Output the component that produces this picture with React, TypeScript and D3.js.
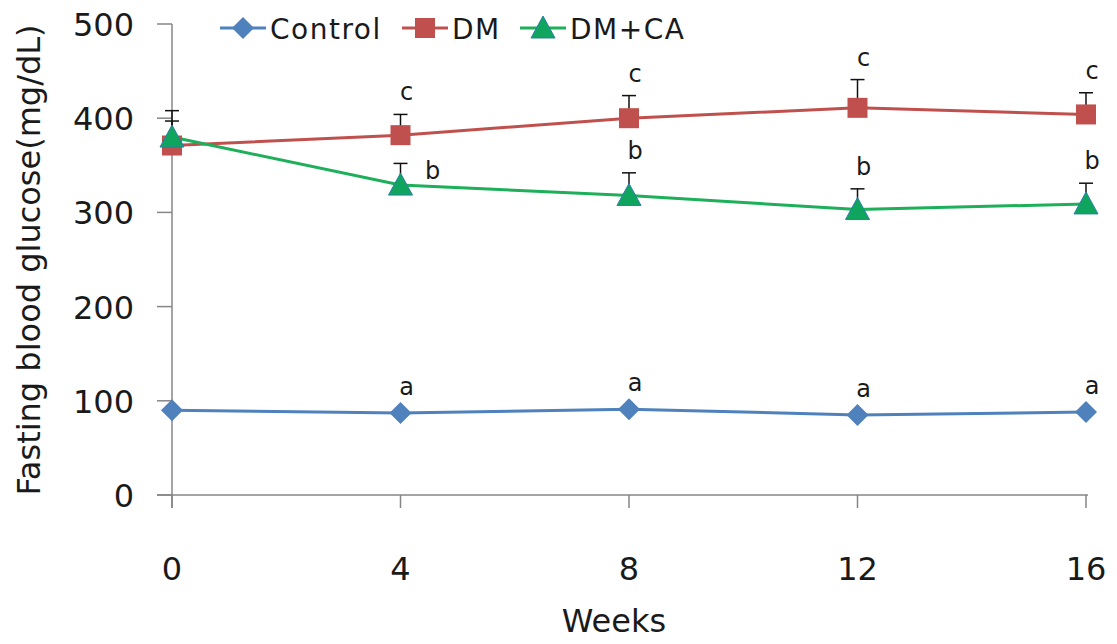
import React from "react";
import * as d3 from "d3";

const weeks = [0, 4, 8, 12, 16];
const controlValues = [90, 87, 91, 85, 88];
const dmValues = [371, 382, 400, 411, 404];
const dmcaValues = [380, 329, 318, 303, 309];
const controlErr = [0, 0, 0, 0, 0];
const dmErr = [26, 22, 24, 30, 23];
const dmcaErr = [28, 23, 24, 22, 22];
const controlLetters = ["", "a", "a", "a", "a"];
const dmLetters = ["", "c", "c", "c", "c"];
const dmcaLetters = ["", "b", "b", "b", "b"];
const yTicks = [0, 100, 200, 300, 400, 500];
const xTicks = [0, 4, 8, 12, 16];
const seriesNames = ["Control", "DM", "DM+CA"];

const FONT = "'DejaVu Sans', 'Noto Sans', sans-serif";
const colors = { control: "#4F81BD", dm: "#C0504D", dmca: "#1DAF5A" };

function Marker({ type, x, y }: { type: string; x: number; y: number }) {
  if (type === "diamond") {
    const s = 11;
    return (
      <path
        d={`M${x},${y - s}L${x + s},${y}L${x},${y + s}L${x - s},${y}Z`}
        fill={colors.control}
      />
    );
  }
  if (type === "square") {
    const s = 10;
    return <rect x={x - s} y={y - s} width={2 * s} height={2 * s} fill={colors.dm} />;
  }
  const w = 12;
  return (
    <path
      d={`M${x},${y - 12}L${x + w},${y + 10}L${x - w},${y + 10}Z`}
      fill="#0FA55E"
      stroke="#2A7FA8"
      strokeWidth={1}
    />
  );
}

export default function App() {
  const x = d3.scaleLinear().domain([0, 16]).range([172, 1086]);
  const y = d3.scaleLinear().domain([0, 500]).range([495, 24]);
  const line = d3
    .line<number>()
    .x((_, i) => x(weeks[i]))
    .y((v) => y(v));

  const series = [
    { key: "control", values: controlValues, err: controlErr, letters: controlLetters, marker: "diamond", color: colors.control },
    { key: "dm", values: dmValues, err: dmErr, letters: dmLetters, marker: "square", color: colors.dm },
    { key: "dmca", values: dmcaValues, err: dmcaErr, letters: dmcaLetters, marker: "triangle", color: colors.dmca },
  ];

  const legendItems = [
    { name: seriesNames[0], marker: "diamond", color: colors.control, x0: 220 },
    { name: seriesNames[1], marker: "square", color: colors.dm, x0: 402 },
    { name: seriesNames[2], marker: "triangle", color: colors.dmca, x0: 520 },
  ];

  return (
    <svg width={1117} height={644} style={{ position: "absolute", left: 0, top: 0, background: "#fff" }}>
      <rect width={1117} height={644} fill="#fff" />
      {/* axes */}
      <line x1={x(0)} x2={x(0)} y1={y(500)} y2={y(0) + 13} stroke="#868686" strokeWidth={1.5} />
      <line x1={157} x2={x(16) + 2} y1={y(0)} y2={y(0)} stroke="#868686" strokeWidth={1.5} />
      {yTicks.map((t) => (
        <g key={"y" + t}>
          <line x1={157} x2={x(0)} y1={y(t)} y2={y(t)} stroke="#868686" strokeWidth={1.5} />
          <text x={134} y={y(t) + 12} textAnchor="end" fontFamily={FONT} fontSize={32} fill="#1a1a1a">
            {t}
          </text>
        </g>
      ))}
      {xTicks.map((t) => (
        <g key={"x" + t}>
          <line x1={x(t)} x2={x(t)} y1={y(0)} y2={y(0) + 13} stroke="#868686" strokeWidth={1.5} />
          <text x={x(t)} y={580} textAnchor="middle" fontFamily={FONT} fontSize={32} fill="#1a1a1a">
            {t}
          </text>
        </g>
      ))}
      <text x={614} y={632} textAnchor="middle" fontFamily={FONT} fontSize={32} fill="#1a1a1a">
        Weeks
      </text>
      <text
        transform={`translate(40,${260}) rotate(-90)`}
        textAnchor="middle"
        fontFamily={FONT}
        fontSize={32}
        fill="#1a1a1a"
      >
        Fasting blood glucose(mg/dL)
      </text>

      {/* error bars */}
      {series.map((s) =>
        s.values.map((v, i) =>
          s.err[i] > 0 ? (
            <g key={s.key + "e" + i}>
              <line x1={x(weeks[i])} x2={x(weeks[i])} y1={y(v)} y2={y(v + s.err[i])} stroke="#111" strokeWidth={1.5} />
              <line x1={x(weeks[i]) - 7} x2={x(weeks[i]) + 7} y1={y(v + s.err[i])} y2={y(v + s.err[i])} stroke="#111" strokeWidth={1.5} />
            </g>
          ) : null
        )
      )}

      {/* lines */}
      {series.map((s) => (
        <path key={s.key + "l"} d={line(s.values) || ""} fill="none" stroke={s.color} strokeWidth={3} />
      ))}
      {series.map((s) =>
        s.values.map((v, i) => <Marker key={s.key + "m" + i} type={s.marker} x={x(weeks[i])} y={y(v)} />)
      )}

      {/* letters */}
      {series.map((s) =>
        s.letters.map((l, i) => {
          if (!l) return null;
          const top = y(s.values[i] + s.err[i]);
          let lx = x(weeks[i]) + 6;
          let ly = top - 22;
          if (s.key === "control") {
            ly = y(s.values[i]) - 26;
          }
          if (s.key === "dmca" && i === 1) {
            lx = x(weeks[i]) + 32;
            ly = y(s.values[i]) - 14;
          }
          return (
            <text key={s.key + "t" + i} x={lx} y={ly} textAnchor="middle" dominantBaseline="central" fontFamily={FONT} fontSize={24} fill="#1a1a1a">
              {l}
            </text>
          );
        })
      )}

      {/* legend */}
      {legendItems.map((it) => (
        <g key={it.name}>
          <line x1={it.x0} x2={it.x0 + 46} y1={28} y2={28} stroke={it.color} strokeWidth={3} />
          <Marker type={it.marker} x={it.x0 + 23} y={28} />
          <text x={it.x0 + 50} y={39} fontFamily={FONT} fontSize={28} letterSpacing={1.5} fill="#1a1a1a">
            {it.name}
          </text>
        </g>
      ))}
    </svg>
  );
}
